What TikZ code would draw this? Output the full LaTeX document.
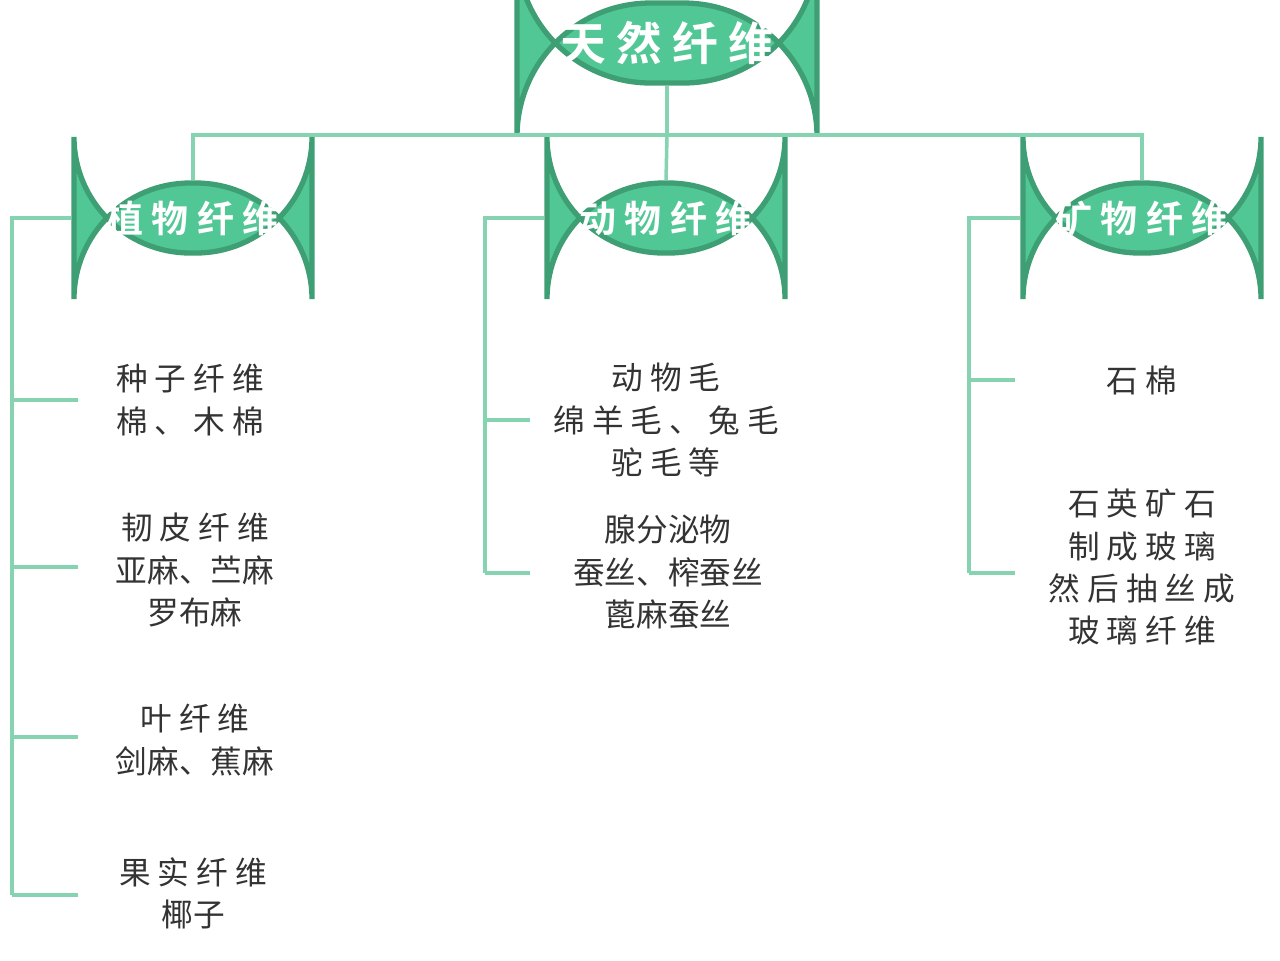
\documentclass[tikz,border=0pt]{standalone}
\usepackage{fontspec}
\setmainfont{Noto Sans CJK SC}
\newfontfamily\cjkb{Noto Sans CJK SC Bold}
\definecolor{gfill}{HTML}{52C796}
\definecolor{gdraw}{HTML}{3E9E74}
\definecolor{gline}{HTML}{86D3B2}
\definecolor{txt}{HTML}{333333}
\begin{document}
\begin{tikzpicture}[x=0.01cm,y=-0.01cm,
  rootbox/.style={draw=gdraw,line width=1.5pt,fill=gfill,rounded corners=38,minimum width=300*0.01cm,minimum height=80*0.01cm,text=white,font=\cjkb\fontsize{13pt}{15pt}\selectfont},
  catbox/.style={draw=gdraw,line width=1.5pt,fill=gfill,rounded corners=33,minimum width=238*0.01cm,minimum height=70*0.01cm,text=white,font=\cjkb\fontsize{10.5pt}{12pt}\selectfont},
  leaf/.style={align=center,text=txt,font=\fontsize{9pt}{12pt}\selectfont},
  conn/.style={draw=gline,line width=1pt}]
\useasboundingbox (0,0) rectangle (1280,960);
\node[rootbox] (root) at (667,43) {天 然 纤 维};
\node[catbox] (c1) at (193,218) {植 物 纤 维};
\node[catbox] (c2) at (666,218) {动 物 纤 维};
\node[catbox] (c3) at (1142,218) {矿 物 纤 维};
\coordinate (j) at (667,135);
\draw[conn] (root.south) -- (j);
\draw[conn] (c1.north) |- (j) -| (c3.north);
\draw[conn] (j) -- (c2.north);
% leaves
\node[leaf] (a1) at (190,400) {种 子 纤 维\\棉 、 木 棉};
\node[leaf] (a2) at (195,570) {韧 皮 纤 维\\亚麻、苎麻\\罗布麻};
\node[leaf] (a3) at (195,740) {叶 纤 维\\剑麻、蕉麻};
\node[leaf] (a4) at (193,893) {果 实 纤 维\\椰子};
\node[leaf] (b1) at (666,420) {动 物 毛\\绵 羊 毛 、 兔 毛\\驼 毛 等};
\node[leaf] (b2) at (668,572) {腺分泌物\\蚕丝、榨蚕丝\\蓖麻蚕丝};
\node[leaf] (d1) at (1142,380) {石 棉};
\node[leaf] (d2) at (1142,567) {石 英 矿 石\\制 成 玻 璃\\然 后 抽 丝 成\\玻 璃 纤 维};
% brackets
\coordinate (p1) at (12,218);
\draw[conn] (c1.west) -- (p1) -- (12,895);
\foreach \y in {400,567,737,895} \draw[conn] (12,\y) -- (78,\y);
\draw[conn] (c2.west) -- (485,218) -- (485,573);
\foreach \y in {420,573} \draw[conn] (485,\y) -- (530,\y);
\draw[conn] (c3.west) -- (969,218) -- (969,573);
\foreach \y in {380,573} \draw[conn] (969,\y) -- (1015,\y);
\end{tikzpicture}
\end{document}
